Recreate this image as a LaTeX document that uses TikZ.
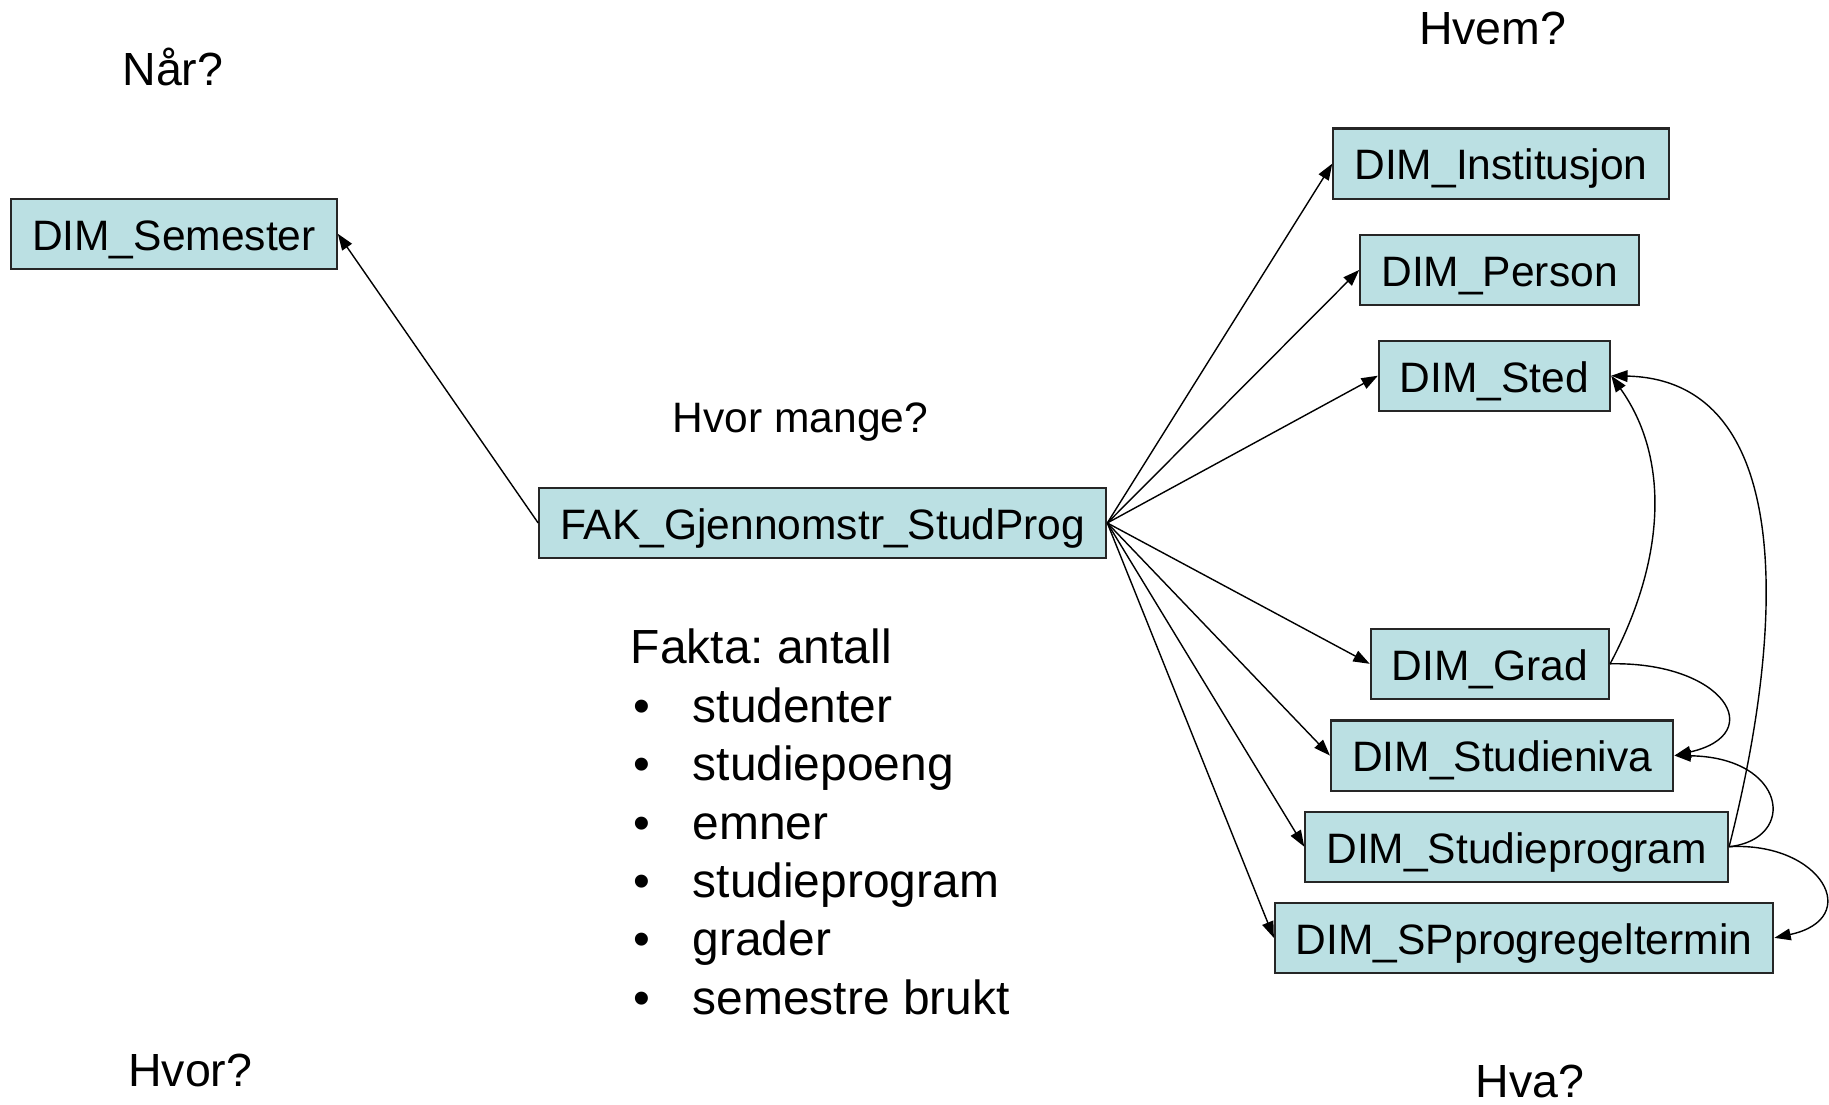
\documentclass[tikz,border=0pt]{standalone}
\usepackage{fontspec}
\setmainfont{Liberation Sans}
\usetikzlibrary{arrows.meta}
\definecolor{dimcyan}{RGB}{187,224,227}
\tikzset{every picture/.style={line width=0.75pt}}
\tikzset{
  dimbox/.style={draw=black!85, line width=0.9pt, fill=dimcyan, anchor=west,
    inner xsep=9pt, inner ysep=0pt, minimum height=30pt,
    text height=15pt, text depth=1pt,
    font=\fontsize{18.2}{22}\selectfont},
  askq/.style={anchor=base west, inner sep=0pt, font=\fontsize{19.9}{24}\selectfont},
  faktatxt/.style={anchor=base west, inner sep=0pt, font=\fontsize{20.5}{25}\selectfont},
  dimarrow/.style={-{Triangle[length=7pt,width=5pt]}, line width=0.6pt},
}

\begin{document}
\frenchspacing
\begin{tikzpicture}[x=0.5pt,y=0.5pt,yscale=-1]
\useasboundingbox (0,0) rectangle (1565,945);

%Shape: Rectangle
\node[dimbox] (sem) at (8.5,200) {DIM\_Semester};
\node[dimbox] (fak) at (460.5,447.5) {FAK\_Gjennomstr\_StudProg};
%Shape: Rectangle
\node[dimbox] (inst) at (1140,140) {DIM\_Institusjon};
\node[dimbox] (pers) at (1163,231) {DIM\_Person};
\node[dimbox] (sted) at (1179,321.5) {DIM\_Sted};
\node[dimbox] (grad) at (1172,568) {DIM\_Grad};
\node[dimbox] (niva) at (1138,646.5) {DIM\_Studieniva};
\node[dimbox] (prog) at (1116,724.5) {DIM\_Studieprogram};
\node[dimbox] (sprt) at (1090,802.5) {DIM\_SPprogregeltermin};

%Straight Lines
\draw[dimarrow] (fak.west) -- (sem.east);
\foreach \dst in {inst,pers,sted,grad,niva,prog,sprt}
  \draw[dimarrow] (fak.east) -- (\dst.west);

%Curve Lines
\draw[dimarrow] (grad.east) .. controls +(48,-90) and +(50,70) .. (sted.east);
\draw[dimarrow] (grad.east) .. controls +(97,-2) and +(81,-18.5) .. (niva.east);
\draw[dimarrow] (prog.east) .. controls +(52,-204) and +(152,3.5) .. (sted.east);
\draw[dimarrow] (prog.east) .. controls +(59,-6.5) and +(96,1.5) .. (niva.east);
\draw[dimarrow] (prog.east) .. controls +(79,-4.5) and +(77,-16.5) .. (sprt.east);

% Text Node
\node[askq] (naar) at (104,73) {Når?};
\node[askq] (hvem) at (1213.5,38.5) {Hvem?};
\node[askq] (hvor) at (109,930) {Hvor?};
\node[askq] (hva) at (1262,939) {Hva?};
\node[anchor=base west, inner sep=0pt, font=\fontsize{18.2}{22}\selectfont] (mange) at (575,370) {Hvor mange?};

% Text Node
\node[faktatxt] (fakta) at (539,568) {Fakta: antall};
\foreach \txt [count=\i] in {studenter,studiepoeng,emner,studieprogram,grader,semestre brukt} {
  \node[faktatxt] (dot\i) at (541,{568+50*\i}) {\textbullet};
  \node[faktatxt] (item\i) at (592,{568+50*\i}) {\txt};
}
\end{tikzpicture}
\end{document}
